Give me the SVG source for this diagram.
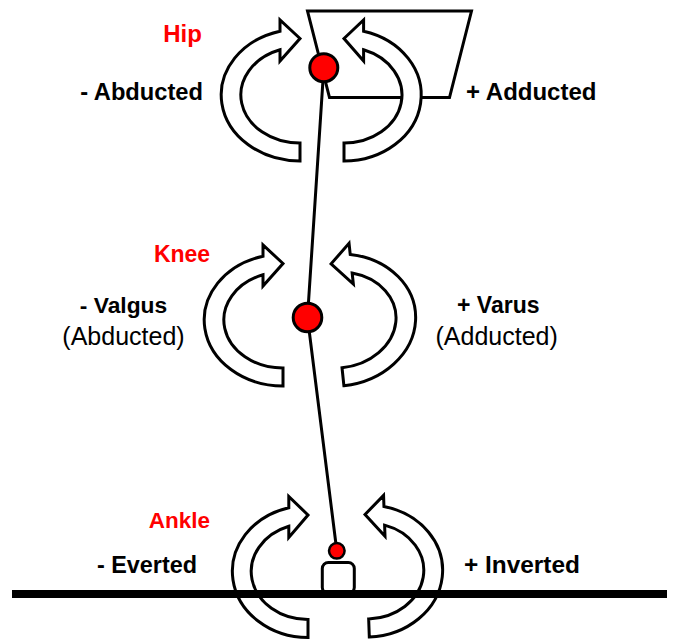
<svg xmlns="http://www.w3.org/2000/svg" xmlns:xlink="http://www.w3.org/1999/xlink" width="681" height="641" viewBox="0 0 681 641">
<style>
.arrow{fill:#fff;stroke:#000;stroke-width:3;stroke-linejoin:miter;vector-effect:non-scaling-stroke}
.joint{fill:#f00;stroke:#000;stroke-width:3}
.line{fill:none;stroke:#000;stroke-width:3}
.lbl{font-family:"Liberation Sans",Arial,sans-serif;font-weight:bold;font-size:23.5px;fill:#000}
.ttl{fill:#f00}
.reg{font-weight:normal;font-size:25px}
</style>
<defs>
<path id="carrow" class="arrow" d="M0,66 A79,66 0 0 1 -20,-63.8 L-20,-75 L0,-56.5 L-20,-34 L-20,-45.2 A59,48 0 0 0 0,48 Z"/>
</defs>
<rect width="681" height="641" fill="#fff"/>
<g id="pelvis">
<polygon points="307.5,11 471.5,11 449.5,97.5 329.5,97.5" fill="#fff" stroke="#000" stroke-width="3" stroke-linejoin="miter"/>
</g>
<g id="connectors">
<polyline class="line" points="323.8,67.7 307.5,317.5 336.8,550.8"/>
</g>
<g id="hip">
<use xlink:href="#carrow" href="#carrow" transform="translate(300,95)"/>
<use xlink:href="#carrow" href="#carrow" transform="translate(344,95) scale(-0.98,1)"/>
<circle class="joint" cx="323.8" cy="67.7" r="14"/>
<text class="lbl ttl" x="182.5" y="42" text-anchor="middle" style="font-size:24px">Hip</text>
<text class="lbl" x="203" y="100" text-anchor="end" style="font-size:23.7px">- Abducted</text>
<text class="lbl" x="466" y="100" style="font-size:24px">+ Adducted</text>
</g>
<g id="knee">
<use xlink:href="#carrow" href="#carrow" transform="translate(283,320)"/>
<use xlink:href="#carrow" href="#carrow" transform="translate(337,320) rotate(-6) scale(-1,1)"/>
<circle class="joint" cx="307.5" cy="317.5" r="14.3"/>
<text class="lbl ttl" x="182" y="262" text-anchor="middle" style="font-size:23px">Knee</text>
<text class="lbl" x="123.5" y="313" text-anchor="middle" style="font-size:22.8px">- Valgus</text>
<text class="lbl reg" x="123.5" y="345" text-anchor="middle">(Abducted)</text>
<text class="lbl" x="498.3" y="313" text-anchor="middle" style="font-size:23px">+ Varus</text>
<text class="lbl reg" x="496.7" y="345" text-anchor="middle">(Adducted)</text>
</g>
<g id="ankle">
<use xlink:href="#carrow" href="#carrow" transform="translate(308,571.5) scale(0.96,1)"/>
<use xlink:href="#carrow" href="#carrow" transform="translate(367,571) rotate(-2) scale(-0.96,1)"/>
<text class="lbl ttl" x="179.5" y="528" text-anchor="middle" style="font-size:22.5px">Ankle</text>
<text class="lbl" x="197" y="573" text-anchor="end" style="font-size:23.4px">- Everted</text>
<text class="lbl" x="464" y="573" style="font-size:24.4px">+ Inverted</text>
</g>
<g id="foot">
<rect x="322.3" y="562.5" width="32" height="31" rx="6" ry="6" fill="#fff" stroke="#000" stroke-width="3"/>
</g>
<g id="ground">
<line x1="12" y1="594" x2="667" y2="594" stroke="#000" stroke-width="8"/>
</g>
<g id="ankle-joint">
<circle cx="336.8" cy="550.8" r="7.8" fill="#f00" stroke="#000" stroke-width="2.5"/>
</g>
</svg>
